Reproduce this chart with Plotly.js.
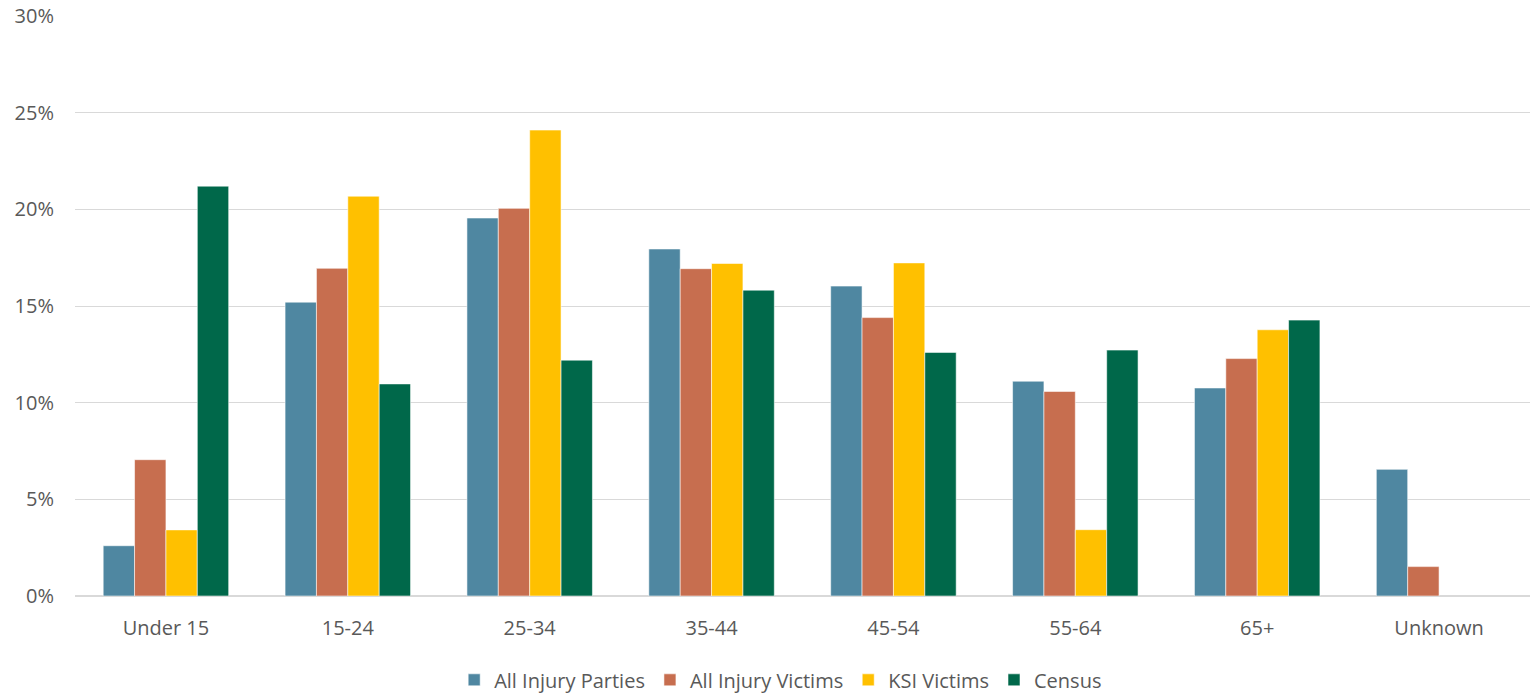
<!DOCTYPE html>
<html>
<head>
<meta charset="utf-8">
<script src="https://cdn.plot.ly/plotly-3.0.1.min.js"></script>
<style>html,body{margin:0;padding:0;background:#fff;}#chart{width:1536px;height:693px;}</style>
</head>
<body>
<div id="chart"></div>
<script>
const categories = ["Under 15", "15-24", "25-34", "35-44", "45-54", "55-64", "65+", "Unknown"];
const allInjuryParties = [2.6, 15.2, 19.55, 17.95, 16.03, 11.11, 10.76, 6.55];
const allInjuryVictims = [7.05, 16.95, 20.05, 16.93, 14.4, 10.58, 12.28, 1.52];
const ksiVictims = [3.42, 20.68, 24.1, 17.2, 17.23, 3.43, 13.77, null];
const census = [21.2, 10.97, 12.2, 15.82, 12.6, 12.72, 14.27, null];
const seriesNames = ["All Injury Parties", "All Injury Victims", "KSI Victims", "Census"];
const seriesColors = ["#4F87A1", "#C76E4F", "#FFC000", "#00684A"];
const seriesData = [allInjuryParties, allInjuryVictims, ksiVictims, census];
const yTickVals = [0, 5, 10, 15, 20, 25, 30];
const yTickText = ["0%", "5%", "10%", "15%", "20%", "25%", "30%"];

const traces = seriesData.map((vals, i) => ({
  type: "bar",
  name: seriesNames[i],
  x: categories,
  y: vals,
  marker: {color: seriesColors[i], line: {color: "rgba(255,255,255,0.55)", width: 1}},
  hoverinfo: "x+y+name"
}));

const font = "Open Sans, Noto Sans, sans-serif";
const layout = {
  width: 1536, height: 693,
  margin: {l: 75, r: 6, t: 16, b: 97},
  paper_bgcolor: "#fff", plot_bgcolor: "#fff",
  barmode: "group",
  bargap: 0.31, bargroupgap: 0,
  font: {family: font, color: "#595959", size: 20},
  xaxis: {
    type: "category",
    showgrid: false, zeroline: false, showline: false,
    ticks: "", ticklabelstandoff: 18,
    tickfont: {family: font, size: 20, color: "#595959"}
  },
  yaxis: {
    range: [0, 30],
    tickvals: yTickVals, ticktext: yTickText,
    showgrid: true, gridcolor: "#D9D9D9", gridwidth: 1.4,
    zeroline: true, zerolinecolor: "#D9D9D9", zerolinewidth: 1.6,
    showline: false, ticks: "", ticklabelstandoff: 20,
    tickfont: {family: font, size: 20, color: "#595959"}
  },
  showlegend: true,
  legend: {
    orientation: "h", x: 0.485, xanchor: "center",
    yref: "container", y: 0.019, yanchor: "middle",
    font: {family: font, size: 20, color: "#595959"},
    itemwidth: 30, tracegroupgap: 0,
    traceorder: "normal"
  }
};

Plotly.newPlot("chart", traces, layout, {displayModeBar: false, responsive: false});
</script>
</body>
</html>
